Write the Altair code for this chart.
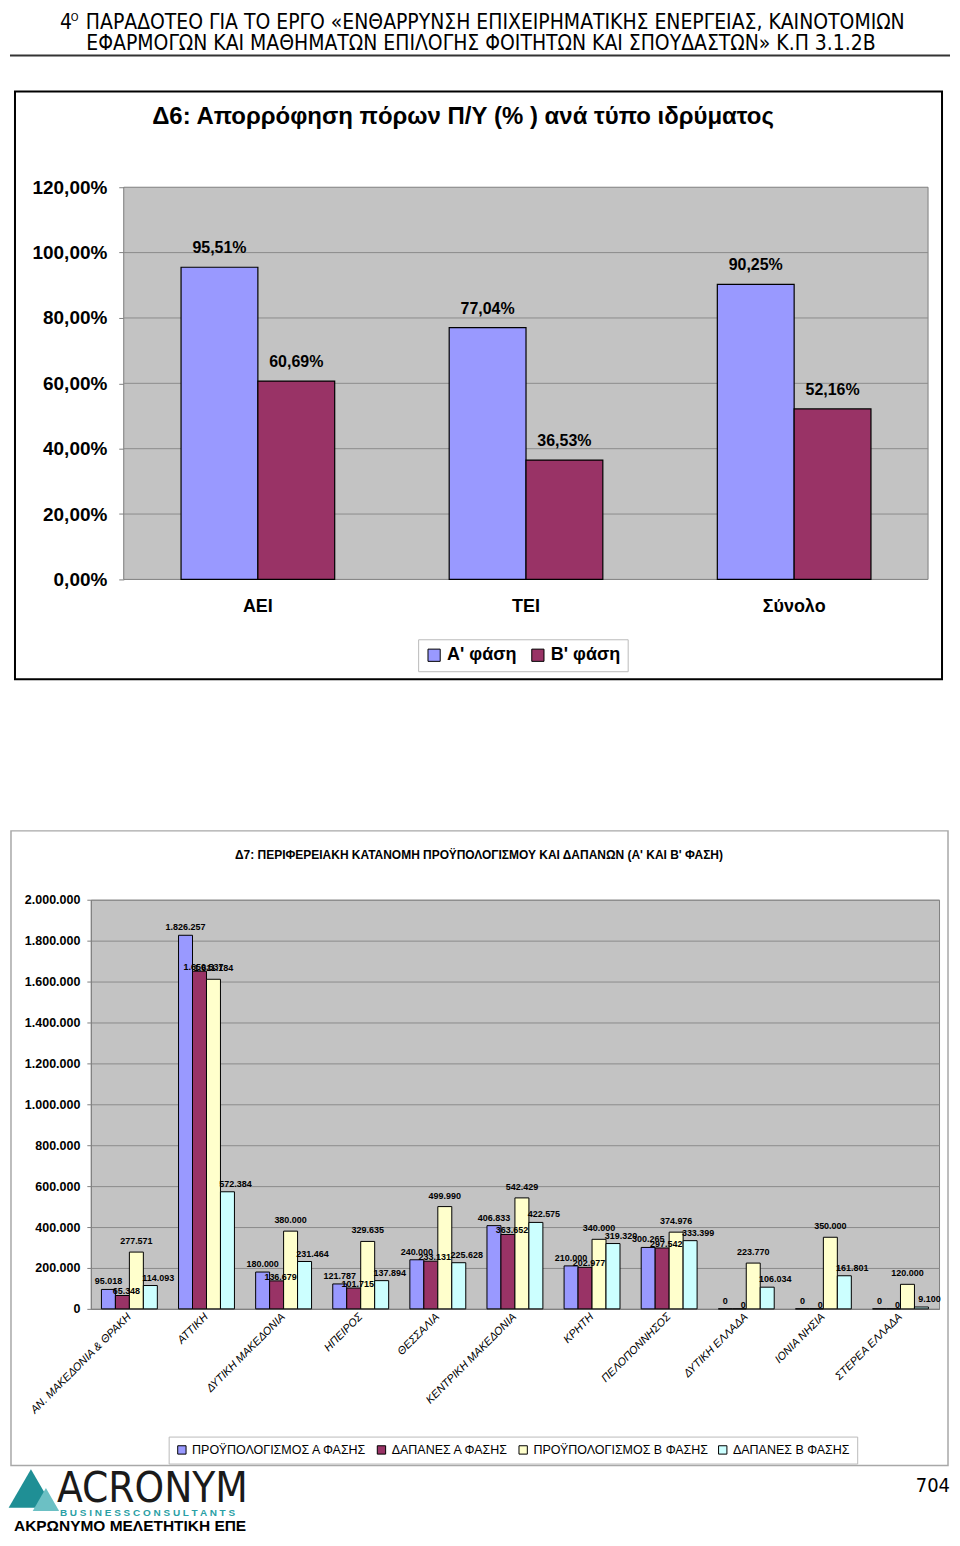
import altair as alt
import pandas as pd

# ---------------- data ----------------
cats1 = ["ΑΕΙ", "ΤΕΙ", "Σύνολο"]
series1 = ["Α' φάση", "Β' φάση"]
phase_a = [0.9551, 0.7704, 0.9025]
phase_b = [0.6069, 0.3653, 0.5216]
colors1 = ["#9999FF", "#993366"]
ticks1 = [0, 0.2, 0.4, 0.6, 0.8, 1.0, 1.2]

regions = ["ΑΝ. ΜΑΚΕΔΟΝΙΑ & ΘΡΑΚΗ", "ΑΤΤΙΚΗ", "ΔΥΤΙΚΗ ΜΑΚΕΔΟΝΙΑ", "ΗΠΕΙΡΟΣ",
           "ΘΕΣΣΑΛΙΑ", "ΚΕΝΤΡΙΚΗ ΜΑΚΕΔΟΝΙΑ", "ΚΡΗΤΗ", "ΠΕΛΟΠΟΝΝΗΣΟΣ",
           "ΔΥΤΙΚΗ ΕΛΛΑΔΑ", "ΙΟΝΙΑ ΝΗΣΙΑ", "ΣΤΕΡΕΑ ΕΛΛΑΔΑ"]
series2 = ["ΠΡΟΫΠΟΛΟΓΙΣΜΟΣ Α ΦΑΣΗΣ", "ΔΑΠΑΝΕΣ Α ΦΑΣΗΣ",
           "ΠΡΟΫΠΟΛΟΓΙΣΜΟΣ Β ΦΑΣΗΣ", "ΔΑΠΑΝΕΣ Β ΦΑΣΗΣ"]
budget_a = [95018, 1826257, 180000, 121787, 240000, 406833, 210000, 300265, 0, 0, 0]
spend_a = [65348, 1650537, 136679, 101715, 233131, 363652, 202977, 297542, 0, 0, 0]
budget_b = [277571, 1611184, 380000, 329635, 499990, 542429, 340000, 374976, 223770, 350000, 120000]
spend_b = [114093, 572384, 231464, 137894, 225628, 422575, 319320, 333399, 106034, 161801, 9100]
colors2 = ["#9999FF", "#993366", "#FFFFCC", "#CCFFFF"]
ticks2 = [0, 200000, 400000, 600000, 800000, 1000000, 1200000, 1400000, 1600000, 1800000, 2000000]

header_l1 = "ΠΑΡΑΔΟΤΕΟ ΓΙΑ ΤΟ ΕΡΓΟ «ΕΝΘΑΡΡΥΝΣΗ ΕΠΙΧΕΙΡΗΜΑΤΙΚΗΣ ΕΝΕΡΓΕΙΑΣ, ΚΑΙΝΟΤΟΜΙΩΝ"
header_l2 = "ΕΦΑΡΜΟΓΩΝ ΚΑΙ ΜΑΘΗΜΑΤΩΝ ΕΠΙΛΟΓΗΣ ΦΟΙΤΗΤΩΝ ΚΑΙ ΣΠΟΥΔΑΣΤΩΝ» Κ.Π 3.1.2Β"
title1 = "Δ6: Απορρόφηση πόρων Π/Υ (% ) ανά τύπο ιδρύματος"
title2 = "Δ7: ΠΕΡΙΦΕΡΕΙΑΚΗ ΚΑΤΑΝΟΜΗ ΠΡΟΫΠΟΛΟΓΙΣΜΟΥ ΚΑΙ ΔΑΠΑΝΩΝ   (Α' ΚΑΙ Β' ΦΑΣΗ)"

FONT = "Liberation Sans"
NARROW = "Liberation Sans Narrow, DejaVu Sans Condensed, Liberation Sans"
PLOT_BG = "#C3C3C3"

df1 = pd.DataFrame({
    "cat": cats1 * 2,
    "series": [series1[0]] * 3 + [series1[1]] * 3,
    "value": phase_a + phase_b,
})
grid1 = pd.DataFrame({"value": ticks1[1:-1]})
rows = []
for s, vals in zip(series2, [budget_a, spend_a, budget_b, spend_b]):
    for r, v in zip(regions, vals):
        rows.append({"region": r, "series": s, "value": v})
df2 = pd.DataFrame(rows)
one = pd.DataFrame({"k": [0]})


def txt(text, x, y, size, weight="normal", font=FONT, align="center",
        color="black", baseline="middle"):
    return alt.Chart(one).mark_text(
        text=text, fontSize=size, fontWeight=weight, font=font, align=align,
        baseline=baseline, color=color
    ).encode(x=alt.value(x), y=alt.value(y))


# ---------------- chart 1 (view origin at page x 89, y 185) ----------------
PX = 33  # plot area starts 33 px right of the view's left edge
x1 = alt.X("cat:N", sort=cats1,
           scale=alt.Scale(paddingInner=0.427, paddingOuter=0.2747, align=0.6125),
           axis=alt.Axis(title=None, labelAngle=0, labelFontSize=18, labelFontWeight="bold",
                         labelFont=FONT, labelColor="black", labelPadding=18, ticks=False,
                         domain=False))
y1 = alt.Y("value:Q", scale=alt.Scale(domain=[0, 1.2], nice=False),
           axis=alt.Axis(title=None, values=ticks1, format=".2%", offset=-PX,
                         labelFontSize=19, labelFontWeight="bold", labelFont=FONT,
                         labelColor="black", tickSize=5, tickColor="#808080",
                         domainColor="#808080", grid=False, labelPadding=12))
color1 = alt.Color("series:N", sort=series1,
                   scale=alt.Scale(domain=series1, range=colors1),
                   legend=alt.Legend(title=None, orient="none", legendX=328, legendY=453,
                                     direction="horizontal", symbolType="square",
                                     symbolSize=150, symbolStrokeColor="black",
                                     symbolStrokeWidth=1, labelFontSize=18,
                                     labelFontWeight="bold", labelFont=FONT,
                                     labelColor="black", fillColor="white",
                                     strokeColor="#BBBBBB", padding=7, columnPadding=12))

plot_bg1 = alt.Chart(one).mark_rect(fill=PLOT_BG, stroke="#808080", strokeWidth=1).encode(
    x=alt.value(PX), x2=alt.value(839), y=alt.value(0), y2=alt.value(393))
grid_rules1 = alt.Chart(grid1).mark_rule(color="#8C8C8C", strokeWidth=1).encode(
    y=y1, x=alt.value(PX), x2=alt.value(839))
bars1 = alt.Chart(df1).mark_bar(stroke="black", strokeWidth=1.2).encode(
    x=x1, xOffset=alt.XOffset("series:N", sort=series1), y=y1, color=color1)
labels1 = alt.Chart(df1).mark_text(
    fontSize=16, fontWeight="bold", font=FONT, baseline="bottom", dy=-11, color="black"
).encode(x=x1, xOffset=alt.XOffset("series:N", sort=series1), y=y1,
         text=alt.Text("value:Q", format=".2%"))

frame1 = alt.Chart(one).mark_rect(fillOpacity=0, stroke="black", strokeWidth=2).encode(
    x=alt.value(-76), x2=alt.value(853), y=alt.value(-96), y2=alt.value(493))
header_rule = alt.Chart(one).mark_rule(color="#333333", strokeWidth=2).encode(
    x=alt.value(-81), x2=alt.value(861), y=alt.value(-132))

chart1 = alt.layer(
    frame1, header_rule,
    txt("4", -31, -165, 21, font=NARROW, align="left"),
    txt("Ο", -20, -170, 11, font=NARROW, align="left"),
    txt(header_l1, -5, -165, 21, font=NARROW, align="left"),
    txt(header_l2, 391, -144, 21, font=NARROW),
    txt(title1, 373, -70, 24, weight="bold"),
    plot_bg1, grid_rules1, bars1, labels1,
).properties(width=839, height=393,
             view=alt.ViewBackground(fill="transparent", stroke="transparent"))

# ---------------- chart 2 (view origin at page x 89, y 899) ----------------
x2 = alt.X("region:N", sort=regions,
           scale=alt.Scale(paddingInner=0.275, paddingOuter=0.1375),
           axis=alt.Axis(title=None, labelAngle=-45, labelFontSize=11, labelFontStyle="italic",
                         labelFont=FONT, labelColor="black", labelAlign="right",
                         labelBaseline="middle", labelPadding=6, ticks=False,
                         labelLimit=400, domainColor="#808080"))
y2 = alt.Y("value:Q", scale=alt.Scale(domain=[0, 2000000], nice=False),
           axis=alt.Axis(title=None, values=ticks2, format=",.0f",
                         labelFontSize=12.5, labelFontWeight="bold", labelFont=FONT,
                         labelColor="black", tickSize=4, tickColor="#808080",
                         domainColor="#808080", gridColor="#8C8C8C", labelPadding=7))
color2 = alt.Color("series:N", sort=series2,
                   scale=alt.Scale(domain=series2, range=colors2),
                   legend=alt.Legend(title=None, orient="none", legendX=78, legendY=538,
                                     direction="horizontal", symbolType="square",
                                     symbolSize=70, symbolStrokeColor="black",
                                     symbolStrokeWidth=1, labelFontSize=12.5,
                                     labelFont=FONT, labelColor="black", labelLimit=400,
                                     fillColor="white", strokeColor="#BBBBBB",
                                     padding=7, columnPadding=8))
bars2 = alt.Chart(df2).mark_bar(stroke="black", strokeWidth=1).encode(
    x=x2, xOffset=alt.XOffset("series:N", sort=series2), y=y2, color=color2)


def labels_for(series_name, dx, dy):
    return alt.Chart(df2).transform_filter(
        alt.datum.series == series_name
    ).mark_text(
        fontSize=9, fontWeight="bold", font=FONT, baseline="bottom", dx=dx, dy=dy,
        color="black"
    ).encode(x=x2, xOffset=alt.XOffset("series:N", sort=series2), y=y2,
             text=alt.Text("value:Q", format=",.0f"))


label_layers = [
    labels_for(series2[0], 0, -3),
    labels_for(series2[1], 4, 1),
    labels_for(series2[2], 0, -6),
    labels_for(series2[3], 8, -3),
]

frame2 = alt.Chart(one).mark_rect(fillOpacity=0, stroke="#A8A8A8", strokeWidth=1.5).encode(
    x=alt.value(-80), x2=alt.value(859), y=alt.value(-69), y2=alt.value(567))
anchor = alt.Chart(one).mark_rect(opacity=0).encode(
    x=alt.value(-81), x2=alt.value(861), y=alt.value(-891), y2=alt.value(633))
tri_big = alt.Chart(one).mark_point(shape="triangle-up", filled=True, size=2000,
                                    color="#1F8F95", opacity=1).encode(
    x=alt.value(-60), y=alt.value(590))
tri_small = alt.Chart(one).mark_point(shape="triangle-up", filled=True, size=700,
                                      color="#6CC0C4", opacity=1).encode(
    x=alt.value(-45), y=alt.value(601))

chart2 = alt.layer(
    anchor, frame2,
    txt(title2, 389, -45, 12, weight="bold"),
    tri_big, tri_small,
    txt("ACRONYM", -34, 591, 42, font=NARROW, align="left", color="#1A1A1A"),
    txt("B U S I N E S S    C O N S U L T A N T S", -31, 615, 10, weight="bold",
        align="left", color="#2A9FA5"),
    txt("ΑΚΡΩΝΥΜΟ ΜΕΛΕΤΗΤΙΚΗ ΕΠΕ", -77, 628, 15.5, weight="bold", align="left"),
    txt("704", 861, 588, 20, font=NARROW, align="right"),
    bars2, *label_layers,
).properties(width=850, height=410,
             view=alt.ViewBackground(fill=PLOT_BG, stroke="#808080", strokeWidth=1))

chart = alt.vconcat(chart1, chart2, spacing=321, bounds="flush").resolve_scale(
    color="independent", x="independent", y="independent", xOffset="independent"
).resolve_legend(color="independent").properties(padding=0).configure(
    background="white",
    locale={"number": {"decimal": ",", "thousands": ".", "grouping": [3],
                       "currency": ["", " €"]}},
)

chart.save("out.html", embed_options={"renderer": "svg", "actions": False})
